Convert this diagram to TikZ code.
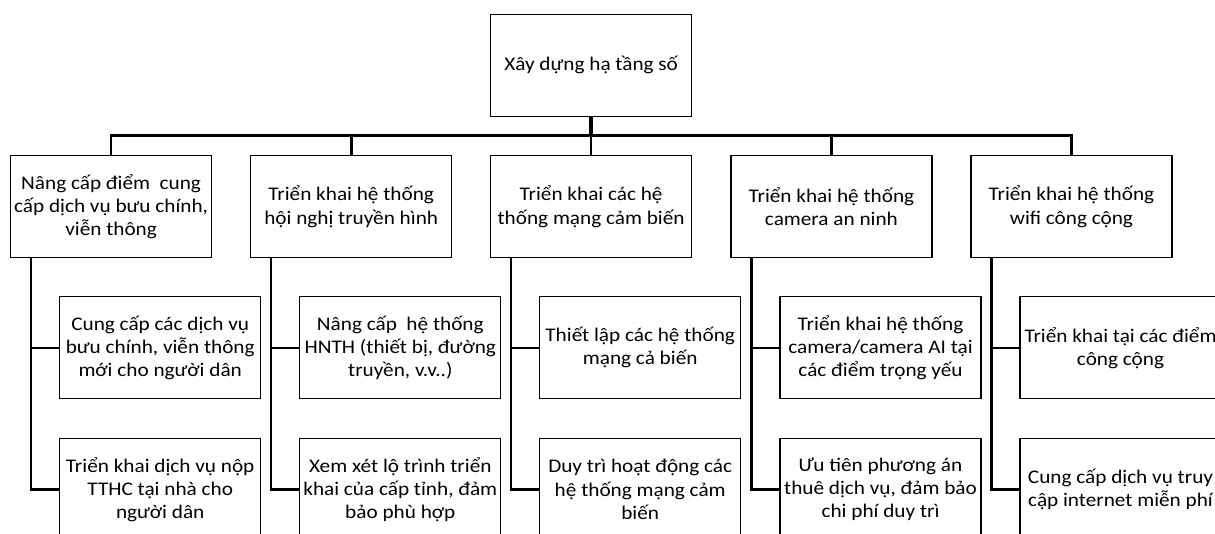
\documentclass[tikz,border=0pt]{standalone}
\usepackage{fontspec}
\setmainfont{Carlito}[FakeStretch=1.1]
\begin{document}
\begin{tikzpicture}[x=1pt,y=-1pt,
  box/.style={draw=black, line width=1.2pt, rectangle, align=center,
    minimum width=201pt, minimum height=102pt, inner sep=1pt,
    font=\fontsize{19.3pt}{23.2pt}\selectfont},
  conn/.style={draw=black, line width=2.6pt},
  rootconn/.style={draw=black, line width=4.2pt}]
\useasboundingbox (0,0) rectangle (1215,533);
\clip (0,0) rectangle (1215,533);
\fill[white] (0,0) rectangle (1215,533);

\node[box] (root) at (591.1,65.3) {Xây dựng hạ tầng số};

\node[box] (L1) at (111.1,206.6) {Nâng cấp điểm\ \ cung\\cấp dịch vụ bưu chính,\\viễn thông};
\node[box] (L2) at (351.2,206.6) {Triển khai hệ thống\\hội nghị truyền hình};
\node[box] (L3) at (591.1,206.6) {Triển khai các hệ\\thống mạng cảm biến};
\node[box] (L4) at (831.4,206.6) {Triển khai hệ thống\\camera an ninh};
\node[box] (L5) at (1071.4,206.6) {Triển khai hệ thống\\wifi công cộng};

\node[box] (C11) at (160.2,347.8) {Cung cấp các dịch vụ\\bưu chính, viễn thông\\mới cho người dân};
\node[box] (C12) at (160.2,489.4) {Triển khai dịch vụ nộp\\TTHC tại nhà cho\\người dân};
\node[box] (C21) at (400.3,347.8) {Nâng cấp\ \ hệ thống\\HNTH (thiết bị, đường\\truyền, v.v..)};
\node[box] (C22) at (400.3,489.4) {Xem xét lộ trình triển\\khai của cấp tỉnh, đảm\\bảo phù hợp};
\node[box] (C31) at (640.2,347.8) {Thiết lập các hệ thống\\mạng cả biến};
\node[box] (C32) at (640.2,489.4) {Duy trì hoạt động các\\hệ thống mạng cảm\\biến};
\node[box] (C41) at (880.5,347.8) {Triển khai hệ thống\\camera/camera AI tại\\các điểm trọng yếu};
\node[box] (C42) at (880.5,489.4) {Ưu tiên phương án\\thuê dịch vụ, đảm bảo\\chi phí duy trì};
\node[box] (C51) at (1120.5,347.8) {Triển khai tại các điểm\\công cộng};
\node[box] (C52) at (1120.5,489.4) {Cung cấp dịch vụ truy\\cập internet miễn phí};

\coordinate (bus) at (591.1,135.6);
\draw[rootconn] (root.south) -- (root.south |- bus);
\draw[conn] (L1.north) -- (L1.north |- bus) -- (L5.north |- bus) -- (L5.north);
\draw[conn] (L2.north) -- (L2.north |- bus);
\draw[conn] (L3.north) -- (L3.north |- bus);
\draw[conn] (L4.north) -- (L4.north |- bus);

\foreach \c in {1,...,5}{
  \draw[conn] ([xshift=21pt]L\c.south west) |- (C\c1.west);
  \draw[conn] ([xshift=21pt]L\c.south west) |- (C\c2.west);
}
\end{tikzpicture}
\end{document}
